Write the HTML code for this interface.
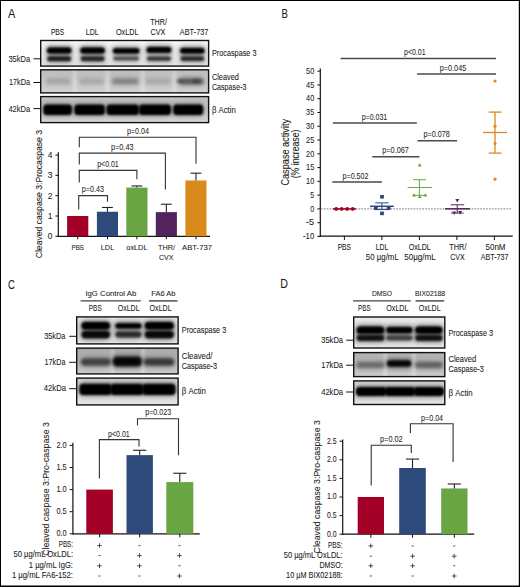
<!DOCTYPE html>
<html><head><meta charset="utf-8"><title>Figure</title>
<style>
html,body{margin:0;padding:0;background:#fff;}
body{width:520px;height:587px;overflow:hidden;font-family:"Liberation Sans", sans-serif;}
svg{display:block;}
text{font-family:"Liberation Sans", sans-serif;}
</style></head>
<body>
<svg width="520" height="587" viewBox="0 0 520 587" font-family='"Liberation Sans", sans-serif'>
<defs><filter id="b1" x="-30%" y="-100%" width="160%" height="300%"><feGaussianBlur stdDeviation="0.9"/></filter><filter id="b15" x="-30%" y="-100%" width="160%" height="300%"><feGaussianBlur stdDeviation="1.2"/></filter><filter id="b2" x="-30%" y="-100%" width="160%" height="300%"><feGaussianBlur stdDeviation="1.6"/></filter><filter id="b3" x="-30%" y="-100%" width="160%" height="300%"><feGaussianBlur stdDeviation="2.5"/></filter><linearGradient id="gA1" x1="0" y1="0" x2="0" y2="1"><stop offset="0" stop-color="#f6f6f6"/><stop offset="0.5" stop-color="#eeeeee"/><stop offset="1" stop-color="#e0e0e0"/></linearGradient><linearGradient id="gA2" x1="0" y1="0" x2="0" y2="1"><stop offset="0" stop-color="#bcbcbc"/><stop offset="0.5" stop-color="#c8c8c8"/><stop offset="1" stop-color="#d2d2d2"/></linearGradient><linearGradient id="gA3" x1="0" y1="0" x2="0" y2="1"><stop offset="0" stop-color="#c0c0c0"/><stop offset="0.6" stop-color="#cacaca"/><stop offset="1" stop-color="#d6d6d6"/></linearGradient><clipPath id="c7"><rect x="40.70" y="40.50" width="167.90" height="25.60"/></clipPath><clipPath id="c8"><rect x="40.70" y="69.80" width="167.90" height="23.10"/></clipPath><clipPath id="c9"><rect x="40.70" y="96.60" width="167.90" height="26.00"/></clipPath><linearGradient id="gC1" x1="0" y1="0" x2="0" y2="1"><stop offset="0" stop-color="#e8e8e8"/><stop offset="0.5" stop-color="#dcdcdc"/><stop offset="1" stop-color="#e4e4e4"/></linearGradient><linearGradient id="gC2" x1="0" y1="0" x2="0" y2="1"><stop offset="0" stop-color="#a8a8a8"/><stop offset="0.5" stop-color="#b8b8b8"/><stop offset="1" stop-color="#cccccc"/></linearGradient><linearGradient id="gC3" x1="0" y1="0" x2="0" y2="1"><stop offset="0" stop-color="#cfcfcf"/><stop offset="0.6" stop-color="#dcdcdc"/><stop offset="1" stop-color="#e6e6e6"/></linearGradient><clipPath id="c13"><rect x="76.70" y="316.90" width="101.40" height="27.00"/></clipPath><clipPath id="c14"><rect x="76.70" y="348.10" width="101.40" height="25.80"/></clipPath><clipPath id="c15"><rect x="76.70" y="378.10" width="101.40" height="26.80"/></clipPath><linearGradient id="gD1" x1="0" y1="0" x2="0" y2="1"><stop offset="0" stop-color="#ececec"/><stop offset="0.5" stop-color="#e0e0e0"/><stop offset="1" stop-color="#e8e8e8"/></linearGradient><linearGradient id="gD2" x1="0" y1="0" x2="0" y2="1"><stop offset="0" stop-color="#b0b0b0"/><stop offset="0.5" stop-color="#bcbcbc"/><stop offset="1" stop-color="#cccccc"/></linearGradient><linearGradient id="gD3" x1="0" y1="0" x2="0" y2="1"><stop offset="0" stop-color="#d0d0d0"/><stop offset="0.6" stop-color="#dadada"/><stop offset="1" stop-color="#e4e4e4"/></linearGradient><clipPath id="c19"><rect x="353.70" y="317.00" width="91.10" height="31.00"/></clipPath><clipPath id="c20"><rect x="353.70" y="352.60" width="91.10" height="24.00"/></clipPath><clipPath id="c21"><rect x="353.70" y="380.90" width="91.10" height="23.60"/></clipPath></defs>
<rect width="520" height="587" fill="#fff"/>
<g>
<text x="8.10" y="17.70" font-size="13.20" textLength="7.30" lengthAdjust="spacingAndGlyphs" fill="#1c1c1c" stroke="#1c1c1c" stroke-width="0.08">A</text>
<text x="50.90" y="35.10" font-size="8.80" textLength="13.30" lengthAdjust="spacingAndGlyphs" fill="#1c1c1c" stroke="#1c1c1c" stroke-width="0.08">PBS</text>
<text x="85.80" y="35.10" font-size="8.80" textLength="13.00" lengthAdjust="spacingAndGlyphs" fill="#1c1c1c" stroke="#1c1c1c" stroke-width="0.08">LDL</text>
<text x="115.90" y="35.10" font-size="8.80" textLength="22.70" lengthAdjust="spacingAndGlyphs" fill="#1c1c1c" stroke="#1c1c1c" stroke-width="0.08">OxLDL</text>
<text x="179.80" y="35.10" font-size="8.80" textLength="28.60" lengthAdjust="spacingAndGlyphs" fill="#1c1c1c" stroke="#1c1c1c" stroke-width="0.08">ABT-737</text>
<text x="150.20" y="25.20" font-size="8.80" textLength="16.70" lengthAdjust="spacingAndGlyphs" fill="#1c1c1c" stroke="#1c1c1c" stroke-width="0.08">THR/</text>
<text x="150.60" y="35.40" font-size="8.80" textLength="14.80" lengthAdjust="spacingAndGlyphs" fill="#1c1c1c" stroke="#1c1c1c" stroke-width="0.08">CVX</text>
<text x="8.40" y="62.00" font-size="8.80" textLength="21.70" lengthAdjust="spacingAndGlyphs" fill="#1c1c1c" stroke="#1c1c1c" stroke-width="0.08">35kDa</text>
<text x="9.00" y="85.20" font-size="8.80" textLength="21.10" lengthAdjust="spacingAndGlyphs" fill="#1c1c1c" stroke="#1c1c1c" stroke-width="0.08">17kDa</text>
<text x="8.40" y="111.70" font-size="8.80" textLength="21.70" lengthAdjust="spacingAndGlyphs" fill="#1c1c1c" stroke="#1c1c1c" stroke-width="0.08">42kDa</text>
<line x1="33.40" y1="58.80" x2="40.50" y2="58.80" stroke="#111" stroke-width="1.0" />
<line x1="33.40" y1="82.50" x2="40.50" y2="82.50" stroke="#111" stroke-width="1.0" />
<line x1="33.40" y1="108.60" x2="40.50" y2="108.60" stroke="#111" stroke-width="1.0" />
<text x="211.90" y="56.10" font-size="9.68" textLength="44.60" lengthAdjust="spacingAndGlyphs" fill="#1c1c1c" stroke="#1c1c1c" stroke-width="0.08">Procaspase 3</text>
<text x="211.90" y="79.60" font-size="9.68" textLength="27.00" lengthAdjust="spacingAndGlyphs" fill="#1c1c1c" stroke="#1c1c1c" stroke-width="0.08">Cleaved</text>
<text x="211.90" y="89.50" font-size="9.68" textLength="34.60" lengthAdjust="spacingAndGlyphs" fill="#1c1c1c" stroke="#1c1c1c" stroke-width="0.08">Caspase-3</text>
<text x="211.90" y="113.20" font-size="9.68" textLength="23.80" lengthAdjust="spacingAndGlyphs" fill="#1c1c1c" stroke="#1c1c1c" stroke-width="0.08">&#946; Actin</text>
<g clip-path="url(#c7)">
<rect x="40.00" y="39.80" width="169.30" height="27.00" fill="url(#gA1)"/>
<rect x="46.00" y="46.10" width="26.40" height="8.80" rx="3.90" fill="#000" opacity="0.500" filter="url(#b3)"/>
<rect x="47.00" y="47.60" width="24.40" height="5.80" rx="2.90" fill="#000" opacity="1.0" filter="url(#b1)"/>
<rect x="46.30" y="54.70" width="25.80" height="8.00" rx="3.50" fill="#000" opacity="0.360" filter="url(#b3)"/>
<rect x="47.30" y="56.20" width="23.80" height="5.00" rx="2.50" fill="#000" opacity="0.8" filter="url(#b15)"/>
<rect x="79.40" y="46.10" width="26.40" height="8.80" rx="3.90" fill="#000" opacity="0.500" filter="url(#b3)"/>
<rect x="80.40" y="47.60" width="24.40" height="5.80" rx="2.90" fill="#000" opacity="1.0" filter="url(#b1)"/>
<rect x="79.70" y="54.70" width="25.80" height="8.00" rx="3.50" fill="#000" opacity="0.338" filter="url(#b3)"/>
<rect x="80.70" y="56.20" width="23.80" height="5.00" rx="2.50" fill="#000" opacity="0.75" filter="url(#b15)"/>
<rect x="112.00" y="46.70" width="28.40" height="8.20" rx="3.60" fill="#000" opacity="0.500" filter="url(#b3)"/>
<rect x="113.00" y="48.20" width="26.40" height="5.20" rx="2.60" fill="#000" opacity="1.0" filter="url(#b1)"/>
<rect x="112.30" y="54.90" width="27.80" height="7.20" rx="3.10" fill="#000" opacity="0.248" filter="url(#b3)"/>
<rect x="113.30" y="56.40" width="25.80" height="4.20" rx="2.10" fill="#000" opacity="0.55" filter="url(#b15)"/>
<rect x="145.60" y="45.60" width="26.70" height="8.70" rx="3.85" fill="#000" opacity="0.500" filter="url(#b3)"/>
<rect x="146.60" y="47.10" width="24.70" height="5.70" rx="2.85" fill="#000" opacity="1.0" filter="url(#b1)"/>
<rect x="145.90" y="54.90" width="26.10" height="7.40" rx="3.20" fill="#000" opacity="0.306" filter="url(#b3)"/>
<rect x="146.90" y="56.40" width="24.10" height="4.40" rx="2.20" fill="#000" opacity="0.68" filter="url(#b15)"/>
<rect x="179.20" y="46.40" width="26.30" height="8.50" rx="3.75" fill="#000" opacity="0.500" filter="url(#b3)"/>
<rect x="180.20" y="47.90" width="24.30" height="5.50" rx="2.75" fill="#000" opacity="1.0" filter="url(#b1)"/>
<rect x="179.50" y="54.80" width="25.70" height="7.70" rx="3.35" fill="#000" opacity="0.324" filter="url(#b3)"/>
<rect x="180.50" y="56.30" width="23.70" height="4.70" rx="2.35" fill="#000" opacity="0.72" filter="url(#b15)"/>
</g>
<rect x="40.70" y="40.50" width="167.90" height="25.60" fill="none" stroke="#111" stroke-width="1.4"/>
<g clip-path="url(#c8)">
<rect x="40.00" y="69.10" width="169.30" height="24.50" fill="url(#gA2)"/>
<rect x="72.75" y="68.00" width="3.50" height="27.00" fill="#fff" opacity="0.3" filter="url(#b2)"/>
<rect x="105.75" y="68.00" width="3.50" height="27.00" fill="#fff" opacity="0.3" filter="url(#b2)"/>
<rect x="140.75" y="68.00" width="3.50" height="27.00" fill="#fff" opacity="0.3" filter="url(#b2)"/>
<rect x="172.75" y="68.00" width="3.50" height="27.00" fill="#fff" opacity="0.3" filter="url(#b2)"/>
<rect x="45.00" y="77.10" width="26.40" height="8.60" rx="3.80" fill="#000" opacity="0.070" filter="url(#b3)"/>
<rect x="46.00" y="78.60" width="24.40" height="5.60" rx="2.80" fill="#000" opacity="0.1" filter="url(#b2)"/>
<rect x="78.40" y="77.10" width="26.40" height="8.60" rx="3.80" fill="#000" opacity="0.063" filter="url(#b3)"/>
<rect x="79.40" y="78.60" width="24.40" height="5.60" rx="2.80" fill="#000" opacity="0.09" filter="url(#b2)"/>
<rect x="111.00" y="77.10" width="28.40" height="8.60" rx="3.80" fill="#000" opacity="0.154" filter="url(#b3)"/>
<rect x="112.00" y="78.60" width="26.40" height="5.60" rx="2.80" fill="#000" opacity="0.22" filter="url(#b2)"/>
<rect x="144.60" y="77.10" width="26.70" height="8.60" rx="3.80" fill="#000" opacity="0.063" filter="url(#b3)"/>
<rect x="145.60" y="78.60" width="24.70" height="5.60" rx="2.80" fill="#000" opacity="0.09" filter="url(#b2)"/>
<rect x="178.20" y="77.10" width="26.30" height="8.60" rx="3.80" fill="#000" opacity="0.266" filter="url(#b3)"/>
<rect x="179.20" y="78.60" width="24.30" height="5.60" rx="2.80" fill="#000" opacity="0.38" filter="url(#b2)"/>
<rect x="176.00" y="78.80" width="7.00" height="4.80" rx="2.40" fill="#000" opacity="0.25" filter="url(#b15)"/>
<rect x="192.00" y="78.80" width="8.00" height="4.80" rx="2.40" fill="#000" opacity="0.25" filter="url(#b15)"/>
</g>
<rect x="40.70" y="69.80" width="167.90" height="23.10" fill="none" stroke="#111" stroke-width="1.4"/>
<g clip-path="url(#c9)">
<rect x="40.00" y="95.90" width="169.30" height="27.40" fill="url(#gA3)"/>
<rect x="42.30" y="102.90" width="30.60" height="13.70" rx="4.50" fill="#000" opacity="0.300" filter="url(#b3)"/>
<rect x="43.30" y="104.40" width="28.60" height="10.70" rx="3.50" fill="#000" opacity="1.0" filter="url(#b1)"/>
<rect x="73.30" y="102.90" width="32.60" height="13.70" rx="4.50" fill="#000" opacity="0.300" filter="url(#b3)"/>
<rect x="74.30" y="104.40" width="30.60" height="10.70" rx="3.50" fill="#000" opacity="1.0" filter="url(#b1)"/>
<rect x="105.50" y="102.90" width="34.50" height="13.70" rx="4.50" fill="#000" opacity="0.300" filter="url(#b3)"/>
<rect x="106.50" y="104.40" width="32.50" height="10.70" rx="3.50" fill="#000" opacity="1.0" filter="url(#b1)"/>
<rect x="138.00" y="102.90" width="34.00" height="13.70" rx="4.50" fill="#000" opacity="0.300" filter="url(#b3)"/>
<rect x="139.00" y="104.40" width="32.00" height="10.70" rx="3.50" fill="#000" opacity="1.0" filter="url(#b1)"/>
<rect x="172.20" y="102.90" width="32.00" height="13.70" rx="4.50" fill="#000" opacity="0.300" filter="url(#b3)"/>
<rect x="173.20" y="104.40" width="30.00" height="10.70" rx="3.50" fill="#000" opacity="1.0" filter="url(#b1)"/>
</g>
<rect x="40.70" y="96.60" width="167.90" height="26.00" fill="none" stroke="#111" stroke-width="1.4"/>
<line x1="58.30" y1="152.30" x2="58.30" y2="236.80" stroke="#111" stroke-width="1.2" />
<line x1="57.70" y1="236.30" x2="210.00" y2="236.30" stroke="#111" stroke-width="1.2" />
<line x1="55.40" y1="236.30" x2="58.30" y2="236.30" stroke="#111" stroke-width="1.0" />
<text x="47.70" y="239.20" font-size="8.80" textLength="4.70" lengthAdjust="spacingAndGlyphs" fill="#1c1c1c" stroke="#1c1c1c" stroke-width="0.08">0</text>
<line x1="55.40" y1="216.00" x2="58.30" y2="216.00" stroke="#111" stroke-width="1.0" />
<text x="47.70" y="218.90" font-size="8.80" textLength="4.70" lengthAdjust="spacingAndGlyphs" fill="#1c1c1c" stroke="#1c1c1c" stroke-width="0.08">1</text>
<line x1="55.40" y1="195.70" x2="58.30" y2="195.70" stroke="#111" stroke-width="1.0" />
<text x="47.70" y="198.60" font-size="8.80" textLength="4.70" lengthAdjust="spacingAndGlyphs" fill="#1c1c1c" stroke="#1c1c1c" stroke-width="0.08">2</text>
<line x1="55.40" y1="175.40" x2="58.30" y2="175.40" stroke="#111" stroke-width="1.0" />
<text x="47.70" y="178.30" font-size="8.80" textLength="4.70" lengthAdjust="spacingAndGlyphs" fill="#1c1c1c" stroke="#1c1c1c" stroke-width="0.08">3</text>
<line x1="55.40" y1="155.10" x2="58.30" y2="155.10" stroke="#111" stroke-width="1.0" />
<text x="47.70" y="158.00" font-size="8.80" textLength="4.70" lengthAdjust="spacingAndGlyphs" fill="#1c1c1c" stroke="#1c1c1c" stroke-width="0.08">4</text>
<rect x="67.10" y="216.00" width="21.20" height="20.30" fill="#a30028" />
<line x1="77.70" y1="236.30" x2="77.70" y2="239.30" stroke="#111" stroke-width="1.0" />
<rect x="96.90" y="211.74" width="21.10" height="24.56" fill="#2d4a7a" />
<line x1="107.45" y1="207.47" x2="107.45" y2="211.74" stroke="#222" stroke-width="1.1" />
<line x1="102.05" y1="207.47" x2="112.85" y2="207.47" stroke="#222" stroke-width="1.1" />
<line x1="107.45" y1="236.30" x2="107.45" y2="239.30" stroke="#111" stroke-width="1.0" />
<rect x="126.30" y="187.58" width="21.20" height="48.72" fill="#6aa544" />
<line x1="136.90" y1="185.96" x2="136.90" y2="187.58" stroke="#222" stroke-width="1.1" />
<line x1="131.50" y1="185.96" x2="142.30" y2="185.96" stroke="#222" stroke-width="1.1" />
<line x1="136.90" y1="236.30" x2="136.90" y2="239.30" stroke="#111" stroke-width="1.0" />
<rect x="155.80" y="212.14" width="21.10" height="24.16" fill="#52245e" />
<line x1="166.35" y1="204.23" x2="166.35" y2="212.14" stroke="#222" stroke-width="1.1" />
<line x1="160.95" y1="204.23" x2="171.75" y2="204.23" stroke="#222" stroke-width="1.1" />
<line x1="166.35" y1="236.30" x2="166.35" y2="239.30" stroke="#111" stroke-width="1.0" />
<rect x="185.40" y="180.48" width="21.10" height="55.82" fill="#da8a1a" />
<line x1="195.95" y1="173.17" x2="195.95" y2="180.48" stroke="#222" stroke-width="1.1" />
<line x1="190.55" y1="173.17" x2="201.35" y2="173.17" stroke="#222" stroke-width="1.1" />
<line x1="195.95" y1="236.30" x2="195.95" y2="239.30" stroke="#111" stroke-width="1.0" />
<text x="71.50" y="250.00" font-size="8.03" textLength="12.50" lengthAdjust="spacingAndGlyphs" fill="#1c1c1c" stroke="#1c1c1c" stroke-width="0.08">PBS</text>
<text x="100.80" y="250.00" font-size="8.03" textLength="13.40" lengthAdjust="spacingAndGlyphs" fill="#1c1c1c" stroke="#1c1c1c" stroke-width="0.08">LDL</text>
<text x="126.30" y="249.60" font-size="8.03" textLength="21.20" lengthAdjust="spacingAndGlyphs" fill="#1c1c1c" stroke="#1c1c1c" stroke-width="0.08">oxLDL</text>
<text x="158.00" y="249.80" font-size="8.03" textLength="17.00" lengthAdjust="spacingAndGlyphs" fill="#1c1c1c" stroke="#1c1c1c" stroke-width="0.08">THR/</text>
<text x="159.00" y="260.00" font-size="8.03" textLength="14.50" lengthAdjust="spacingAndGlyphs" fill="#1c1c1c" stroke="#1c1c1c" stroke-width="0.08">CVX</text>
<text x="182.00" y="249.80" font-size="8.03" textLength="30.00" lengthAdjust="spacingAndGlyphs" fill="#1c1c1c" stroke="#1c1c1c" stroke-width="0.08">ABT-737</text>
<path d="M79.3,147.2 V137.3 H196.0 V163.8" stroke="#333" stroke-width="1.1" fill="none" />
<path d="M79.3,164.6 V153.1 H165.4 V189.6" stroke="#333" stroke-width="1.1" fill="none" />
<path d="M79.3,182.5 V170.4 H136.9 V179.2" stroke="#333" stroke-width="1.1" fill="none" />
<path d="M78.7,209.4 V195.6 H107.5 V201.7" stroke="#333" stroke-width="1.1" fill="none" />
<text x="126.90" y="134.40" font-size="8.36" textLength="22.10" lengthAdjust="spacingAndGlyphs" fill="#1c1c1c" stroke="#1c1c1c" stroke-width="0.04">p=0.04</text>
<text x="111.00" y="150.20" font-size="8.36" textLength="22.50" lengthAdjust="spacingAndGlyphs" fill="#1c1c1c" stroke="#1c1c1c" stroke-width="0.04">p=0.43</text>
<text x="97.20" y="167.40" font-size="8.36" textLength="21.50" lengthAdjust="spacingAndGlyphs" fill="#1c1c1c" stroke="#1c1c1c" stroke-width="0.04">p&lt;0.01</text>
<text x="81.70" y="191.70" font-size="8.36" textLength="22.20" lengthAdjust="spacingAndGlyphs" fill="#1c1c1c" stroke="#1c1c1c" stroke-width="0.04">p=0.43</text>
<text x="0" y="0" transform="translate(42.00,258.30) rotate(-90)" font-size="9.02" textLength="128.40" lengthAdjust="spacingAndGlyphs" fill="#1c1c1c" stroke="#1c1c1c" stroke-width="0.08">Cleaved caspase 3:Procaspase 3</text>
<text x="281.50" y="18.00" font-size="13.20" textLength="6.40" lengthAdjust="spacingAndGlyphs" fill="#1c1c1c" stroke="#1c1c1c" stroke-width="0.08">B</text>
<line x1="320.30" y1="68.50" x2="320.30" y2="236.80" stroke="#111" stroke-width="1.2" />
<line x1="319.70" y1="236.20" x2="512.70" y2="236.20" stroke="#111" stroke-width="1.2" />
<line x1="317.40" y1="236.45" x2="320.30" y2="236.45" stroke="#111" stroke-width="1.0" />
<text x="303.00" y="239.15" font-size="8.14" textLength="11.20" lengthAdjust="spacingAndGlyphs" fill="#1c1c1c" stroke="#1c1c1c" stroke-width="0.08">-10</text>
<line x1="317.40" y1="222.68" x2="320.30" y2="222.68" stroke="#111" stroke-width="1.0" />
<text x="306.10" y="225.38" font-size="8.14" textLength="8.10" lengthAdjust="spacingAndGlyphs" fill="#1c1c1c" stroke="#1c1c1c" stroke-width="0.08">-5</text>
<line x1="317.40" y1="208.90" x2="320.30" y2="208.90" stroke="#111" stroke-width="1.0" />
<text x="310.30" y="211.60" font-size="8.14" textLength="3.90" lengthAdjust="spacingAndGlyphs" fill="#1c1c1c" stroke="#1c1c1c" stroke-width="0.08">0</text>
<line x1="317.40" y1="195.12" x2="320.30" y2="195.12" stroke="#111" stroke-width="1.0" />
<text x="310.30" y="197.82" font-size="8.14" textLength="3.90" lengthAdjust="spacingAndGlyphs" fill="#1c1c1c" stroke="#1c1c1c" stroke-width="0.08">5</text>
<line x1="317.40" y1="181.35" x2="320.30" y2="181.35" stroke="#111" stroke-width="1.0" />
<text x="306.10" y="184.05" font-size="8.14" textLength="8.10" lengthAdjust="spacingAndGlyphs" fill="#1c1c1c" stroke="#1c1c1c" stroke-width="0.08">10</text>
<line x1="317.40" y1="167.58" x2="320.30" y2="167.58" stroke="#111" stroke-width="1.0" />
<text x="306.10" y="170.28" font-size="8.14" textLength="8.10" lengthAdjust="spacingAndGlyphs" fill="#1c1c1c" stroke="#1c1c1c" stroke-width="0.08">15</text>
<line x1="317.40" y1="153.80" x2="320.30" y2="153.80" stroke="#111" stroke-width="1.0" />
<text x="306.10" y="156.50" font-size="8.14" textLength="8.10" lengthAdjust="spacingAndGlyphs" fill="#1c1c1c" stroke="#1c1c1c" stroke-width="0.08">20</text>
<line x1="317.40" y1="140.03" x2="320.30" y2="140.03" stroke="#111" stroke-width="1.0" />
<text x="306.10" y="142.72" font-size="8.14" textLength="8.10" lengthAdjust="spacingAndGlyphs" fill="#1c1c1c" stroke="#1c1c1c" stroke-width="0.08">25</text>
<line x1="317.40" y1="126.25" x2="320.30" y2="126.25" stroke="#111" stroke-width="1.0" />
<text x="306.10" y="128.95" font-size="8.14" textLength="8.10" lengthAdjust="spacingAndGlyphs" fill="#1c1c1c" stroke="#1c1c1c" stroke-width="0.08">30</text>
<line x1="317.40" y1="112.48" x2="320.30" y2="112.48" stroke="#111" stroke-width="1.0" />
<text x="306.10" y="115.18" font-size="8.14" textLength="8.10" lengthAdjust="spacingAndGlyphs" fill="#1c1c1c" stroke="#1c1c1c" stroke-width="0.08">35</text>
<line x1="317.40" y1="98.70" x2="320.30" y2="98.70" stroke="#111" stroke-width="1.0" />
<text x="306.10" y="101.40" font-size="8.14" textLength="8.10" lengthAdjust="spacingAndGlyphs" fill="#1c1c1c" stroke="#1c1c1c" stroke-width="0.08">40</text>
<line x1="317.40" y1="84.93" x2="320.30" y2="84.93" stroke="#111" stroke-width="1.0" />
<text x="306.10" y="87.63" font-size="8.14" textLength="8.10" lengthAdjust="spacingAndGlyphs" fill="#1c1c1c" stroke="#1c1c1c" stroke-width="0.08">45</text>
<line x1="317.40" y1="71.15" x2="320.30" y2="71.15" stroke="#111" stroke-width="1.0" />
<text x="306.10" y="73.85" font-size="8.14" textLength="8.10" lengthAdjust="spacingAndGlyphs" fill="#1c1c1c" stroke="#1c1c1c" stroke-width="0.08">50</text>
<line x1="320.80" y1="208.90" x2="512.00" y2="208.90" stroke="#9a9a9a" stroke-width="1.2" stroke-dasharray="1.8,1.1"/>
<line x1="344.40" y1="236.20" x2="344.40" y2="240.00" stroke="#111" stroke-width="1.0" />
<line x1="381.90" y1="236.20" x2="381.90" y2="240.00" stroke="#111" stroke-width="1.0" />
<line x1="419.40" y1="236.20" x2="419.40" y2="240.00" stroke="#111" stroke-width="1.0" />
<line x1="456.90" y1="236.20" x2="456.90" y2="240.00" stroke="#111" stroke-width="1.0" />
<line x1="494.40" y1="236.20" x2="494.40" y2="240.00" stroke="#111" stroke-width="1.0" />
<text x="337.70" y="249.80" font-size="8.36" textLength="13.30" lengthAdjust="spacingAndGlyphs" fill="#1c1c1c" stroke="#1c1c1c" stroke-width="0.08">PBS</text>
<text x="375.80" y="250.00" font-size="8.36" textLength="12.50" lengthAdjust="spacingAndGlyphs" fill="#1c1c1c" stroke="#1c1c1c" stroke-width="0.08">LDL</text>
<text x="365.80" y="259.80" font-size="8.36" textLength="33.00" lengthAdjust="spacingAndGlyphs" fill="#1c1c1c" stroke="#1c1c1c" stroke-width="0.08">50 &#181;g/mL</text>
<text x="408.80" y="250.20" font-size="8.36" textLength="21.90" lengthAdjust="spacingAndGlyphs" fill="#1c1c1c" stroke="#1c1c1c" stroke-width="0.08">OxLDL</text>
<text x="404.20" y="259.60" font-size="8.36" textLength="31.60" lengthAdjust="spacingAndGlyphs" fill="#1c1c1c" stroke="#1c1c1c" stroke-width="0.08">50&#181;g/mL</text>
<text x="449.20" y="250.20" font-size="8.36" textLength="17.30" lengthAdjust="spacingAndGlyphs" fill="#1c1c1c" stroke="#1c1c1c" stroke-width="0.08">THR/</text>
<text x="450.30" y="259.60" font-size="8.36" textLength="14.40" lengthAdjust="spacingAndGlyphs" fill="#1c1c1c" stroke="#1c1c1c" stroke-width="0.08">CVX</text>
<text x="485.50" y="250.20" font-size="8.36" textLength="20.00" lengthAdjust="spacingAndGlyphs" fill="#1c1c1c" stroke="#1c1c1c" stroke-width="0.08">50nM</text>
<text x="480.80" y="259.60" font-size="8.36" textLength="27.70" lengthAdjust="spacingAndGlyphs" fill="#1c1c1c" stroke="#1c1c1c" stroke-width="0.08">ABT-737</text>
<line x1="340.60" y1="58.60" x2="496.00" y2="58.60" stroke="#4a4a4a" stroke-width="1.5" />
<text x="404.00" y="55.20" font-size="8.36" textLength="21.60" lengthAdjust="spacingAndGlyphs" fill="#1c1c1c" stroke="#1c1c1c" stroke-width="0.04">p&lt;0.01</text>
<line x1="417.10" y1="74.00" x2="496.00" y2="74.00" stroke="#4a4a4a" stroke-width="1.5" />
<text x="439.80" y="70.60" font-size="8.36" textLength="26.40" lengthAdjust="spacingAndGlyphs" fill="#1c1c1c" stroke="#1c1c1c" stroke-width="0.04">p=0.045</text>
<line x1="332.90" y1="123.10" x2="416.90" y2="123.10" stroke="#4a4a4a" stroke-width="1.5" />
<text x="361.70" y="119.70" font-size="8.36" textLength="25.60" lengthAdjust="spacingAndGlyphs" fill="#1c1c1c" stroke="#1c1c1c" stroke-width="0.04">p=0.031</text>
<line x1="417.50" y1="140.80" x2="457.10" y2="140.80" stroke="#4a4a4a" stroke-width="1.5" />
<text x="423.50" y="137.40" font-size="8.36" textLength="26.30" lengthAdjust="spacingAndGlyphs" fill="#1c1c1c" stroke="#1c1c1c" stroke-width="0.04">p=0.078</text>
<line x1="372.30" y1="156.70" x2="419.40" y2="156.70" stroke="#4a4a4a" stroke-width="1.5" />
<text x="382.30" y="153.30" font-size="8.36" textLength="26.50" lengthAdjust="spacingAndGlyphs" fill="#1c1c1c" stroke="#1c1c1c" stroke-width="0.04">p=0.067</text>
<line x1="332.30" y1="181.90" x2="381.90" y2="181.90" stroke="#4a4a4a" stroke-width="1.5" />
<text x="342.50" y="178.50" font-size="8.36" textLength="26.00" lengthAdjust="spacingAndGlyphs" fill="#1c1c1c" stroke="#1c1c1c" stroke-width="0.04">p=0.502</text>
<text x="0" y="0" transform="translate(289.00,185.60) rotate(-90)" font-size="10.12" textLength="66.70" lengthAdjust="spacingAndGlyphs" fill="#1c1c1c" stroke="#1c1c1c" stroke-width="0.08">Caspase activity</text>
<text x="0" y="0" transform="translate(299.20,178.30) rotate(-90)" font-size="10.12" textLength="48.70" lengthAdjust="spacingAndGlyphs" fill="#1c1c1c" stroke="#1c1c1c" stroke-width="0.08">(% increase)</text>
<line x1="333.00" y1="208.90" x2="356.00" y2="208.90" stroke="#a30028" stroke-width="1.5" />
<circle cx="336.2" cy="208.9" r="1.9" fill="#a30028"/>
<circle cx="341.7" cy="208.9" r="1.9" fill="#a30028"/>
<circle cx="347.2" cy="208.9" r="1.9" fill="#a30028"/>
<circle cx="352.7" cy="208.9" r="1.9" fill="#a30028"/>
<line x1="370.00" y1="206.30" x2="393.80" y2="206.30" stroke="#2d4a7a" stroke-width="1.5" />
<line x1="375.20" y1="202.90" x2="388.60" y2="202.90" stroke="#2d4a7a" stroke-width="1.0" />
<line x1="375.20" y1="209.60" x2="388.60" y2="209.60" stroke="#2d4a7a" stroke-width="1.0" />
<line x1="381.90" y1="202.90" x2="381.90" y2="209.60" stroke="#2d4a7a" stroke-width="1.0" />
<rect x="380.1" y="195.0" width="3.8" height="3.6" fill="#2d4a7a"/>
<rect x="374.0" y="206.39999999999998" width="3.8" height="3.6" fill="#2d4a7a"/>
<rect x="386.8" y="206.39999999999998" width="3.8" height="3.6" fill="#2d4a7a"/>
<rect x="380.1" y="211.6" width="3.8" height="3.6" fill="#2d4a7a"/>
<line x1="407.70" y1="187.50" x2="431.90" y2="187.50" stroke="#6aa544" stroke-width="1.0" />
<line x1="413.00" y1="179.70" x2="426.10" y2="179.70" stroke="#6aa544" stroke-width="1.0" />
<line x1="413.00" y1="195.30" x2="426.10" y2="195.30" stroke="#6aa544" stroke-width="1.0" />
<line x1="419.40" y1="179.70" x2="419.40" y2="195.30" stroke="#6aa544" stroke-width="1.0" />
<path d="M417.7,166.4 L421.7,166.4 L419.7,163.0 Z" fill="#6aa544"/>
<path d="M411.9,196.6 L415.9,196.6 L413.9,193.2 Z" fill="#6aa544"/>
<path d="M417.7,198.1 L421.7,198.1 L419.7,194.7 Z" fill="#6aa544"/>
<path d="M423.4,196.6 L427.4,196.6 L425.4,193.2 Z" fill="#6aa544"/>
<line x1="445.00" y1="208.80" x2="470.00" y2="208.80" stroke="#52245e" stroke-width="1.5" />
<line x1="450.80" y1="204.80" x2="464.20" y2="204.80" stroke="#52245e" stroke-width="1.0" />
<line x1="451.00" y1="213.10" x2="463.50" y2="213.10" stroke="#52245e" stroke-width="1.0" />
<line x1="457.20" y1="204.80" x2="457.20" y2="213.10" stroke="#52245e" stroke-width="1.0" />
<path d="M455.3,199.0 L459.3,199.0 L457.3,202.4 Z" fill="#52245e"/>
<path d="M452.2,211.4 L456.2,211.4 L454.2,214.8 Z" fill="#52245e"/>
<path d="M458.1,211.0 L462.1,211.0 L460.1,214.4 Z" fill="#52245e"/>
<line x1="483.00" y1="132.50" x2="507.00" y2="132.50" stroke="#da8a1a" stroke-width="1.3" />
<line x1="488.70" y1="112.10" x2="501.50" y2="112.10" stroke="#da8a1a" stroke-width="1.3" />
<line x1="488.70" y1="153.10" x2="501.50" y2="153.10" stroke="#da8a1a" stroke-width="1.3" />
<line x1="495.00" y1="112.10" x2="495.00" y2="153.10" stroke="#da8a1a" stroke-width="1.3" />
<circle cx="495.0" cy="81.0" r="1.6" fill="#da8a1a"/>
<circle cx="495.0" cy="126.2" r="1.6" fill="#da8a1a"/>
<circle cx="495.0" cy="143.5" r="1.6" fill="#da8a1a"/>
<circle cx="495.0" cy="179.2" r="1.6" fill="#da8a1a"/>
<text x="8.10" y="288.70" font-size="13.20" textLength="6.90" lengthAdjust="spacingAndGlyphs" fill="#1c1c1c" stroke="#1c1c1c" stroke-width="0.08">C</text>
<text x="85.40" y="295.60" font-size="7.70" textLength="50.90" lengthAdjust="spacingAndGlyphs" fill="#1c1c1c" stroke="#1c1c1c" stroke-width="0.08">IgG Control Ab</text>
<text x="151.20" y="295.60" font-size="7.70" textLength="24.40" lengthAdjust="spacingAndGlyphs" fill="#1c1c1c" stroke="#1c1c1c" stroke-width="0.08">FA6 Ab</text>
<line x1="80.60" y1="300.90" x2="140.80" y2="300.90" stroke="#444" stroke-width="1.4" />
<line x1="149.00" y1="300.90" x2="177.50" y2="300.90" stroke="#444" stroke-width="1.4" />
<text x="88.80" y="311.20" font-size="8.14" textLength="12.90" lengthAdjust="spacingAndGlyphs" fill="#1c1c1c" stroke="#1c1c1c" stroke-width="0.08">PBS</text>
<text x="117.70" y="311.20" font-size="8.14" textLength="21.90" lengthAdjust="spacingAndGlyphs" fill="#1c1c1c" stroke="#1c1c1c" stroke-width="0.08">OxLDL</text>
<text x="149.60" y="311.20" font-size="8.14" textLength="22.10" lengthAdjust="spacingAndGlyphs" fill="#1c1c1c" stroke="#1c1c1c" stroke-width="0.08">OxLDL</text>
<text x="44.20" y="339.20" font-size="8.25" textLength="21.20" lengthAdjust="spacingAndGlyphs" fill="#1c1c1c" stroke="#1c1c1c" stroke-width="0.08">35kDa</text>
<text x="44.60" y="365.20" font-size="8.25" textLength="20.80" lengthAdjust="spacingAndGlyphs" fill="#1c1c1c" stroke="#1c1c1c" stroke-width="0.08">17kDa</text>
<text x="43.80" y="391.20" font-size="8.25" textLength="22.20" lengthAdjust="spacingAndGlyphs" fill="#1c1c1c" stroke="#1c1c1c" stroke-width="0.08">42kDa</text>
<line x1="69.20" y1="336.30" x2="76.50" y2="336.30" stroke="#111" stroke-width="1.0" />
<line x1="69.20" y1="362.30" x2="76.50" y2="362.30" stroke="#111" stroke-width="1.0" />
<line x1="69.20" y1="388.70" x2="76.50" y2="388.70" stroke="#111" stroke-width="1.0" />
<text x="181.80" y="333.40" font-size="9.13" textLength="44.40" lengthAdjust="spacingAndGlyphs" fill="#1c1c1c" stroke="#1c1c1c" stroke-width="0.08">Procaspase 3</text>
<text x="181.80" y="359.30" font-size="9.13" textLength="30.60" lengthAdjust="spacingAndGlyphs" fill="#1c1c1c" stroke="#1c1c1c" stroke-width="0.08">Cleaved/</text>
<text x="181.80" y="368.80" font-size="9.13" textLength="35.20" lengthAdjust="spacingAndGlyphs" fill="#1c1c1c" stroke="#1c1c1c" stroke-width="0.08">Caspase-3</text>
<text x="181.80" y="393.90" font-size="9.13" textLength="24.20" lengthAdjust="spacingAndGlyphs" fill="#1c1c1c" stroke="#1c1c1c" stroke-width="0.08">&#946; Actin</text>
<g clip-path="url(#c13)">
<rect x="76.00" y="316.20" width="102.80" height="28.40" fill="url(#gC1)"/>
<rect x="80.50" y="320.50" width="30.50" height="10.40" rx="4.70" fill="#000" opacity="0.500" filter="url(#b3)"/>
<rect x="81.50" y="322.00" width="28.50" height="7.40" rx="3.70" fill="#000" opacity="1" filter="url(#b1)"/>
<rect x="80.50" y="329.50" width="30.50" height="10.20" rx="4.60" fill="#000" opacity="0.460" filter="url(#b3)"/>
<rect x="81.50" y="331.00" width="28.50" height="7.20" rx="3.60" fill="#000" opacity="0.92" filter="url(#b1)"/>
<rect x="114.40" y="321.70" width="28.00" height="8.20" rx="3.60" fill="#000" opacity="0.500" filter="url(#b3)"/>
<rect x="115.40" y="323.20" width="26.00" height="5.20" rx="2.60" fill="#000" opacity="1" filter="url(#b1)"/>
<rect x="114.40" y="330.00" width="28.00" height="9.00" rx="4.00" fill="#000" opacity="0.350" filter="url(#b3)"/>
<rect x="115.40" y="331.50" width="26.00" height="6.00" rx="3.00" fill="#000" opacity="0.7" filter="url(#b1)"/>
<rect x="143.80" y="320.50" width="31.00" height="10.40" rx="4.70" fill="#000" opacity="0.500" filter="url(#b3)"/>
<rect x="144.80" y="322.00" width="29.00" height="7.40" rx="3.70" fill="#000" opacity="1" filter="url(#b1)"/>
<rect x="143.80" y="329.50" width="31.00" height="10.20" rx="4.60" fill="#000" opacity="0.460" filter="url(#b3)"/>
<rect x="144.80" y="331.00" width="29.00" height="7.20" rx="3.60" fill="#000" opacity="0.92" filter="url(#b1)"/>
</g>
<rect x="76.70" y="316.90" width="101.40" height="27.00" fill="none" stroke="#111" stroke-width="1.4"/>
<g clip-path="url(#c14)">
<rect x="76.00" y="347.40" width="102.80" height="27.20" fill="url(#gC2)"/>
<rect x="111.00" y="346.00" width="3.00" height="30.00" fill="#fff" opacity="0.35" filter="url(#b2)"/>
<rect x="141.30" y="346.00" width="3.00" height="30.00" fill="#fff" opacity="0.35" filter="url(#b2)"/>
<rect x="80.00" y="357.10" width="31.50" height="9.80" rx="4.40" fill="#000" opacity="0.300" filter="url(#b3)"/>
<rect x="81.00" y="358.60" width="29.50" height="6.80" rx="3.40" fill="#000" opacity="0.5" filter="url(#b2)"/>
<rect x="112.00" y="355.50" width="30.50" height="12.00" rx="5.00" fill="#000" opacity="0.552" filter="url(#b3)"/>
<rect x="113.00" y="357.00" width="28.50" height="9.00" rx="4.00" fill="#000" opacity="0.92" filter="url(#b2)"/>
<rect x="143.00" y="356.90" width="32.00" height="10.00" rx="4.50" fill="#000" opacity="0.330" filter="url(#b3)"/>
<rect x="144.00" y="358.40" width="30.00" height="7.00" rx="3.50" fill="#000" opacity="0.55" filter="url(#b2)"/>
</g>
<rect x="76.70" y="348.10" width="101.40" height="25.80" fill="none" stroke="#111" stroke-width="1.4"/>
<g clip-path="url(#c15)">
<rect x="76.00" y="377.40" width="102.80" height="28.20" fill="url(#gC3)"/>
<rect x="78.40" y="382.30" width="34.20" height="14.20" rx="4.80" fill="#000" opacity="0.350" filter="url(#b3)"/>
<rect x="79.40" y="383.80" width="32.20" height="11.20" rx="3.80" fill="#000" opacity="1.0" filter="url(#b1)"/>
<rect x="109.40" y="382.30" width="35.00" height="14.20" rx="4.80" fill="#000" opacity="0.350" filter="url(#b3)"/>
<rect x="110.40" y="383.80" width="33.00" height="11.20" rx="3.80" fill="#000" opacity="1.0" filter="url(#b1)"/>
<rect x="141.20" y="382.30" width="35.30" height="14.20" rx="4.80" fill="#000" opacity="0.350" filter="url(#b3)"/>
<rect x="142.20" y="383.80" width="33.30" height="11.20" rx="3.80" fill="#000" opacity="1.0" filter="url(#b1)"/>
</g>
<rect x="76.70" y="378.10" width="101.40" height="26.80" fill="none" stroke="#111" stroke-width="1.4"/>
<line x1="72.90" y1="442.70" x2="72.90" y2="534.30" stroke="#111" stroke-width="1.2" />
<line x1="72.30" y1="533.80" x2="199.80" y2="533.80" stroke="#111" stroke-width="1.2" />
<line x1="69.60" y1="533.80" x2="72.90" y2="533.80" stroke="#111" stroke-width="1.0" />
<text x="56.50" y="536.20" font-size="8.14" textLength="10.20" lengthAdjust="spacingAndGlyphs" fill="#1c1c1c" stroke="#1c1c1c" stroke-width="0.08">0.0</text>
<line x1="69.60" y1="511.70" x2="72.90" y2="511.70" stroke="#111" stroke-width="1.0" />
<text x="56.50" y="514.10" font-size="8.14" textLength="10.20" lengthAdjust="spacingAndGlyphs" fill="#1c1c1c" stroke="#1c1c1c" stroke-width="0.08">0.5</text>
<line x1="69.60" y1="489.60" x2="72.90" y2="489.60" stroke="#111" stroke-width="1.0" />
<text x="56.50" y="492.00" font-size="8.14" textLength="10.20" lengthAdjust="spacingAndGlyphs" fill="#1c1c1c" stroke="#1c1c1c" stroke-width="0.08">1.0</text>
<line x1="69.60" y1="467.50" x2="72.90" y2="467.50" stroke="#111" stroke-width="1.0" />
<text x="56.50" y="469.90" font-size="8.14" textLength="10.20" lengthAdjust="spacingAndGlyphs" fill="#1c1c1c" stroke="#1c1c1c" stroke-width="0.08">1.5</text>
<line x1="69.60" y1="445.40" x2="72.90" y2="445.40" stroke="#111" stroke-width="1.0" />
<text x="56.50" y="447.80" font-size="8.14" textLength="10.20" lengthAdjust="spacingAndGlyphs" fill="#1c1c1c" stroke="#1c1c1c" stroke-width="0.08">2.0</text>
<rect x="86.30" y="489.60" width="26.60" height="44.20" fill="#a30028" />
<line x1="99.60" y1="533.80" x2="99.60" y2="537.30" stroke="#111" stroke-width="1.0" />
<rect x="126.50" y="455.12" width="26.40" height="78.68" fill="#2d4a7a" />
<line x1="139.70" y1="450.26" x2="139.70" y2="455.12" stroke="#222" stroke-width="1.1" />
<line x1="133.10" y1="450.26" x2="146.30" y2="450.26" stroke="#222" stroke-width="1.1" />
<line x1="139.70" y1="533.80" x2="139.70" y2="537.30" stroke="#111" stroke-width="1.0" />
<rect x="166.30" y="482.09" width="27.00" height="51.71" fill="#6aa544" />
<line x1="179.80" y1="473.25" x2="179.80" y2="482.09" stroke="#222" stroke-width="1.1" />
<line x1="173.20" y1="473.25" x2="186.40" y2="473.25" stroke="#222" stroke-width="1.1" />
<line x1="179.80" y1="533.80" x2="179.80" y2="537.30" stroke="#111" stroke-width="1.0" />
<path d="M99.4,478.5 V439.6 H139.0 V446.5" stroke="#333" stroke-width="1.1" fill="none" />
<path d="M137.5,425.4 V418.7 H178.5 V455.2" stroke="#333" stroke-width="1.1" fill="none" />
<text x="108.00" y="436.50" font-size="8.36" textLength="21.80" lengthAdjust="spacingAndGlyphs" fill="#1c1c1c" stroke="#1c1c1c" stroke-width="0.04">p&lt;0.01</text>
<text x="145.20" y="415.40" font-size="8.36" textLength="26.00" lengthAdjust="spacingAndGlyphs" fill="#1c1c1c" stroke="#1c1c1c" stroke-width="0.04">p=0.023</text>
<text x="0" y="0" transform="translate(49.40,555.80) rotate(-90)" font-size="9.79" textLength="133.70" lengthAdjust="spacingAndGlyphs" fill="#1c1c1c" stroke="#1c1c1c" stroke-width="0.08">Cleaved caspase 3:Pro-caspase 3</text>
<text x="58.70" y="547.30" font-size="8.14" textLength="14.30" lengthAdjust="spacingAndGlyphs" fill="#1c1c1c" stroke="#1c1c1c" stroke-width="0.08">PBS:</text>
<line x1="97.20" y1="545.60" x2="101.80" y2="545.60" stroke="#333" stroke-width="0.85" />
<line x1="99.50" y1="543.30" x2="99.50" y2="547.90" stroke="#333" stroke-width="0.85" />
<line x1="138.40" y1="545.60" x2="140.60" y2="545.60" stroke="#444" stroke-width="0.9" />
<line x1="178.40" y1="545.60" x2="180.60" y2="545.60" stroke="#444" stroke-width="0.9" />
<text x="13.50" y="557.30" font-size="8.14" textLength="59.50" lengthAdjust="spacingAndGlyphs" fill="#1c1c1c" stroke="#1c1c1c" stroke-width="0.08">50 &#181;g/mL OxLDL:</text>
<line x1="98.40" y1="555.60" x2="100.60" y2="555.60" stroke="#444" stroke-width="0.9" />
<line x1="137.20" y1="555.60" x2="141.80" y2="555.60" stroke="#333" stroke-width="0.85" />
<line x1="139.50" y1="553.30" x2="139.50" y2="557.90" stroke="#333" stroke-width="0.85" />
<line x1="177.20" y1="555.60" x2="181.80" y2="555.60" stroke="#333" stroke-width="0.85" />
<line x1="179.50" y1="553.30" x2="179.50" y2="557.90" stroke="#333" stroke-width="0.85" />
<text x="28.80" y="567.50" font-size="8.14" textLength="44.20" lengthAdjust="spacingAndGlyphs" fill="#1c1c1c" stroke="#1c1c1c" stroke-width="0.08">1 &#181;g/mL IgG:</text>
<line x1="97.20" y1="565.80" x2="101.80" y2="565.80" stroke="#333" stroke-width="0.85" />
<line x1="99.50" y1="563.50" x2="99.50" y2="568.10" stroke="#333" stroke-width="0.85" />
<line x1="137.20" y1="565.80" x2="141.80" y2="565.80" stroke="#333" stroke-width="0.85" />
<line x1="139.50" y1="563.50" x2="139.50" y2="568.10" stroke="#333" stroke-width="0.85" />
<line x1="178.40" y1="565.80" x2="180.60" y2="565.80" stroke="#444" stroke-width="0.9" />
<text x="11.90" y="577.70" font-size="8.14" textLength="61.10" lengthAdjust="spacingAndGlyphs" fill="#1c1c1c" stroke="#1c1c1c" stroke-width="0.08">1 &#181;g/mL FA6-152:</text>
<line x1="98.40" y1="576.00" x2="100.60" y2="576.00" stroke="#444" stroke-width="0.9" />
<line x1="138.40" y1="576.00" x2="140.60" y2="576.00" stroke="#444" stroke-width="0.9" />
<line x1="177.20" y1="576.00" x2="181.80" y2="576.00" stroke="#333" stroke-width="0.85" />
<line x1="179.50" y1="573.70" x2="179.50" y2="578.30" stroke="#333" stroke-width="0.85" />
<text x="280.20" y="288.30" font-size="13.20" textLength="7.70" lengthAdjust="spacingAndGlyphs" fill="#1c1c1c" stroke="#1c1c1c" stroke-width="0.08">D</text>
<text x="371.90" y="295.60" font-size="7.70" textLength="20.20" lengthAdjust="spacingAndGlyphs" fill="#1c1c1c" stroke="#1c1c1c" stroke-width="0.08">DMSO</text>
<text x="415.00" y="295.60" font-size="7.70" textLength="30.20" lengthAdjust="spacingAndGlyphs" fill="#1c1c1c" stroke="#1c1c1c" stroke-width="0.08">BIX02188</text>
<line x1="353.10" y1="300.90" x2="410.80" y2="300.90" stroke="#444" stroke-width="1.4" />
<line x1="415.60" y1="300.90" x2="444.20" y2="300.90" stroke="#444" stroke-width="1.4" />
<text x="358.10" y="311.20" font-size="8.14" textLength="12.50" lengthAdjust="spacingAndGlyphs" fill="#1c1c1c" stroke="#1c1c1c" stroke-width="0.08">PBS</text>
<text x="386.30" y="311.20" font-size="8.14" textLength="22.20" lengthAdjust="spacingAndGlyphs" fill="#1c1c1c" stroke="#1c1c1c" stroke-width="0.08">OxLDL</text>
<text x="418.70" y="311.20" font-size="8.14" textLength="21.90" lengthAdjust="spacingAndGlyphs" fill="#1c1c1c" stroke="#1c1c1c" stroke-width="0.08">OxLDL</text>
<text x="321.20" y="342.70" font-size="8.25" textLength="21.90" lengthAdjust="spacingAndGlyphs" fill="#1c1c1c" stroke="#1c1c1c" stroke-width="0.08">35kDa</text>
<text x="321.20" y="368.10" font-size="8.25" textLength="21.90" lengthAdjust="spacingAndGlyphs" fill="#1c1c1c" stroke="#1c1c1c" stroke-width="0.08">17kDa</text>
<text x="321.20" y="395.00" font-size="8.25" textLength="21.90" lengthAdjust="spacingAndGlyphs" fill="#1c1c1c" stroke="#1c1c1c" stroke-width="0.08">42kDa</text>
<line x1="346.20" y1="340.20" x2="353.50" y2="340.20" stroke="#111" stroke-width="1.0" />
<line x1="346.20" y1="365.20" x2="353.50" y2="365.20" stroke="#111" stroke-width="1.0" />
<line x1="346.20" y1="392.00" x2="353.50" y2="392.00" stroke="#111" stroke-width="1.0" />
<text x="448.50" y="335.50" font-size="9.13" textLength="44.60" lengthAdjust="spacingAndGlyphs" fill="#1c1c1c" stroke="#1c1c1c" stroke-width="0.08">Procaspase 3</text>
<text x="448.50" y="362.30" font-size="9.13" textLength="27.60" lengthAdjust="spacingAndGlyphs" fill="#1c1c1c" stroke="#1c1c1c" stroke-width="0.08">Cleaved</text>
<text x="448.50" y="372.40" font-size="9.13" textLength="35.20" lengthAdjust="spacingAndGlyphs" fill="#1c1c1c" stroke="#1c1c1c" stroke-width="0.08">Caspase-3</text>
<text x="448.50" y="396.00" font-size="9.13" textLength="24.20" lengthAdjust="spacingAndGlyphs" fill="#1c1c1c" stroke="#1c1c1c" stroke-width="0.08">&#946; Actin</text>
<g clip-path="url(#c19)">
<rect x="353.00" y="316.30" width="92.50" height="32.40" fill="url(#gD1)"/>
<rect x="355.60" y="325.10" width="29.70" height="10.20" rx="4.60" fill="#000" opacity="0.500" filter="url(#b3)"/>
<rect x="356.60" y="326.60" width="27.70" height="7.20" rx="3.60" fill="#000" opacity="1" filter="url(#b1)"/>
<rect x="355.60" y="333.50" width="29.70" height="9.00" rx="4.00" fill="#000" opacity="0.425" filter="url(#b3)"/>
<rect x="356.60" y="335.00" width="27.70" height="6.00" rx="3.00" fill="#000" opacity="0.85" filter="url(#b1)"/>
<rect x="385.30" y="325.40" width="28.20" height="9.30" rx="4.15" fill="#000" opacity="0.500" filter="url(#b3)"/>
<rect x="386.30" y="326.90" width="26.20" height="6.30" rx="3.15" fill="#000" opacity="1" filter="url(#b1)"/>
<rect x="385.30" y="334.00" width="28.20" height="8.00" rx="3.50" fill="#000" opacity="0.300" filter="url(#b3)"/>
<rect x="386.30" y="335.50" width="26.20" height="5.00" rx="2.50" fill="#000" opacity="0.6" filter="url(#b1)"/>
<rect x="414.20" y="325.10" width="29.30" height="10.20" rx="4.60" fill="#000" opacity="0.500" filter="url(#b3)"/>
<rect x="415.20" y="326.60" width="27.30" height="7.20" rx="3.60" fill="#000" opacity="1" filter="url(#b1)"/>
<rect x="414.20" y="333.50" width="29.30" height="9.00" rx="4.00" fill="#000" opacity="0.425" filter="url(#b3)"/>
<rect x="415.20" y="335.00" width="27.30" height="6.00" rx="3.00" fill="#000" opacity="0.85" filter="url(#b1)"/>
</g>
<rect x="353.70" y="317.00" width="91.10" height="31.00" fill="none" stroke="#111" stroke-width="1.4"/>
<g clip-path="url(#c20)">
<rect x="353.00" y="351.90" width="92.50" height="25.40" fill="url(#gD2)"/>
<rect x="383.80" y="351.00" width="3.00" height="27.00" fill="#fff" opacity="0.4" filter="url(#b2)"/>
<rect x="412.30" y="351.00" width="3.00" height="27.00" fill="#fff" opacity="0.4" filter="url(#b2)"/>
<rect x="355.60" y="360.50" width="29.70" height="9.00" rx="4.00" fill="#000" opacity="0.180" filter="url(#b3)"/>
<rect x="356.60" y="362.00" width="27.70" height="6.00" rx="3.00" fill="#000" opacity="0.3" filter="url(#b2)"/>
<rect x="386.00" y="358.90" width="26.00" height="9.20" rx="4.10" fill="#000" opacity="0.552" filter="url(#b3)"/>
<rect x="387.00" y="360.40" width="24.00" height="6.20" rx="3.10" fill="#000" opacity="0.92" filter="url(#b15)"/>
<rect x="414.20" y="360.50" width="29.30" height="9.00" rx="4.00" fill="#000" opacity="0.210" filter="url(#b3)"/>
<rect x="415.20" y="362.00" width="27.30" height="6.00" rx="3.00" fill="#000" opacity="0.35" filter="url(#b2)"/>
</g>
<rect x="353.70" y="352.60" width="91.10" height="24.00" fill="none" stroke="#111" stroke-width="1.4"/>
<g clip-path="url(#c21)">
<rect x="353.00" y="380.20" width="92.50" height="25.00" fill="url(#gD3)"/>
<rect x="355.00" y="385.50" width="32.40" height="11.90" rx="4.60" fill="#000" opacity="0.350" filter="url(#b3)"/>
<rect x="356.00" y="387.00" width="30.40" height="8.90" rx="3.60" fill="#000" opacity="1.0" filter="url(#b1)"/>
<rect x="383.80" y="385.50" width="32.40" height="11.90" rx="4.60" fill="#000" opacity="0.350" filter="url(#b3)"/>
<rect x="384.80" y="387.00" width="30.40" height="8.90" rx="3.60" fill="#000" opacity="1.0" filter="url(#b1)"/>
<rect x="412.80" y="385.50" width="32.20" height="11.90" rx="4.60" fill="#000" opacity="0.350" filter="url(#b3)"/>
<rect x="413.80" y="387.00" width="30.20" height="8.90" rx="3.60" fill="#000" opacity="1.0" filter="url(#b1)"/>
</g>
<rect x="353.70" y="380.90" width="91.10" height="23.60" fill="none" stroke="#111" stroke-width="1.4"/>
<line x1="342.70" y1="439.40" x2="342.70" y2="534.70" stroke="#111" stroke-width="1.2" />
<line x1="342.10" y1="534.20" x2="474.20" y2="534.20" stroke="#111" stroke-width="1.2" />
<line x1="339.50" y1="534.20" x2="342.70" y2="534.20" stroke="#111" stroke-width="1.0" />
<text x="326.90" y="536.60" font-size="8.14" textLength="9.60" lengthAdjust="spacingAndGlyphs" fill="#1c1c1c" stroke="#1c1c1c" stroke-width="0.08">0.0</text>
<line x1="339.50" y1="515.60" x2="342.70" y2="515.60" stroke="#111" stroke-width="1.0" />
<text x="326.90" y="518.00" font-size="8.14" textLength="9.60" lengthAdjust="spacingAndGlyphs" fill="#1c1c1c" stroke="#1c1c1c" stroke-width="0.08">0.5</text>
<line x1="339.50" y1="497.00" x2="342.70" y2="497.00" stroke="#111" stroke-width="1.0" />
<text x="326.90" y="499.40" font-size="8.14" textLength="9.60" lengthAdjust="spacingAndGlyphs" fill="#1c1c1c" stroke="#1c1c1c" stroke-width="0.08">1.0</text>
<line x1="339.50" y1="478.40" x2="342.70" y2="478.40" stroke="#111" stroke-width="1.0" />
<text x="326.90" y="480.80" font-size="8.14" textLength="9.60" lengthAdjust="spacingAndGlyphs" fill="#1c1c1c" stroke="#1c1c1c" stroke-width="0.08">1.5</text>
<line x1="339.50" y1="459.80" x2="342.70" y2="459.80" stroke="#111" stroke-width="1.0" />
<text x="326.90" y="462.20" font-size="8.14" textLength="9.60" lengthAdjust="spacingAndGlyphs" fill="#1c1c1c" stroke="#1c1c1c" stroke-width="0.08">2.0</text>
<line x1="339.50" y1="441.20" x2="342.70" y2="441.20" stroke="#111" stroke-width="1.0" />
<text x="326.90" y="443.60" font-size="8.14" textLength="9.60" lengthAdjust="spacingAndGlyphs" fill="#1c1c1c" stroke="#1c1c1c" stroke-width="0.08">2.5</text>
<rect x="357.70" y="497.00" width="26.30" height="37.20" fill="#a30028" />
<line x1="370.85" y1="534.20" x2="370.85" y2="537.70" stroke="#111" stroke-width="1.0" />
<rect x="399.20" y="467.98" width="26.60" height="66.22" fill="#2d4a7a" />
<line x1="412.50" y1="459.06" x2="412.50" y2="467.98" stroke="#222" stroke-width="1.1" />
<line x1="405.90" y1="459.06" x2="419.10" y2="459.06" stroke="#222" stroke-width="1.1" />
<line x1="412.50" y1="534.20" x2="412.50" y2="537.70" stroke="#111" stroke-width="1.0" />
<rect x="441.20" y="488.44" width="26.30" height="45.76" fill="#6aa544" />
<line x1="454.35" y1="483.98" x2="454.35" y2="488.44" stroke="#222" stroke-width="1.1" />
<line x1="447.75" y1="483.98" x2="460.95" y2="483.98" stroke="#222" stroke-width="1.1" />
<line x1="454.35" y1="534.20" x2="454.35" y2="537.70" stroke="#111" stroke-width="1.0" />
<path d="M371.2,485.6 V445.2 H411.3 V452.9" stroke="#333" stroke-width="1.1" fill="none" />
<path d="M410.4,433.1 V423.7 H453.1 V461.9" stroke="#333" stroke-width="1.1" fill="none" />
<text x="380.00" y="442.30" font-size="8.36" textLength="22.70" lengthAdjust="spacingAndGlyphs" fill="#1c1c1c" stroke="#1c1c1c" stroke-width="0.04">p=0.02</text>
<text x="421.00" y="420.80" font-size="8.36" textLength="22.10" lengthAdjust="spacingAndGlyphs" fill="#1c1c1c" stroke="#1c1c1c" stroke-width="0.04">p=0.04</text>
<text x="0" y="0" transform="translate(319.70,553.40) rotate(-90)" font-size="9.79" textLength="133.20" lengthAdjust="spacingAndGlyphs" fill="#1c1c1c" stroke="#1c1c1c" stroke-width="0.08">Cleaved caspase 3:Pro-caspase 3</text>
<text x="328.10" y="547.60" font-size="8.14" textLength="14.50" lengthAdjust="spacingAndGlyphs" fill="#1c1c1c" stroke="#1c1c1c" stroke-width="0.08">PBS:</text>
<line x1="368.50" y1="545.90" x2="373.10" y2="545.90" stroke="#333" stroke-width="0.85" />
<line x1="370.80" y1="543.60" x2="370.80" y2="548.20" stroke="#333" stroke-width="0.85" />
<line x1="411.50" y1="545.90" x2="413.70" y2="545.90" stroke="#444" stroke-width="0.9" />
<line x1="453.10" y1="545.90" x2="455.30" y2="545.90" stroke="#444" stroke-width="0.9" />
<text x="283.80" y="557.90" font-size="8.14" textLength="58.80" lengthAdjust="spacingAndGlyphs" fill="#1c1c1c" stroke="#1c1c1c" stroke-width="0.08">50 &#181;g/mL OxLDL:</text>
<line x1="369.70" y1="556.20" x2="371.90" y2="556.20" stroke="#444" stroke-width="0.9" />
<line x1="410.30" y1="556.20" x2="414.90" y2="556.20" stroke="#333" stroke-width="0.85" />
<line x1="412.60" y1="553.90" x2="412.60" y2="558.50" stroke="#333" stroke-width="0.85" />
<line x1="451.90" y1="556.20" x2="456.50" y2="556.20" stroke="#333" stroke-width="0.85" />
<line x1="454.20" y1="553.90" x2="454.20" y2="558.50" stroke="#333" stroke-width="0.85" />
<text x="319.50" y="567.50" font-size="8.14" textLength="23.10" lengthAdjust="spacingAndGlyphs" fill="#1c1c1c" stroke="#1c1c1c" stroke-width="0.08">DMSO:</text>
<line x1="368.50" y1="565.80" x2="373.10" y2="565.80" stroke="#333" stroke-width="0.85" />
<line x1="370.80" y1="563.50" x2="370.80" y2="568.10" stroke="#333" stroke-width="0.85" />
<line x1="410.30" y1="565.80" x2="414.90" y2="565.80" stroke="#333" stroke-width="0.85" />
<line x1="412.60" y1="563.50" x2="412.60" y2="568.10" stroke="#333" stroke-width="0.85" />
<line x1="453.10" y1="565.80" x2="455.30" y2="565.80" stroke="#444" stroke-width="0.9" />
<text x="286.10" y="577.70" font-size="8.14" textLength="56.50" lengthAdjust="spacingAndGlyphs" fill="#1c1c1c" stroke="#1c1c1c" stroke-width="0.08">10 &#181;M BIX02188:</text>
<line x1="369.70" y1="576.00" x2="371.90" y2="576.00" stroke="#444" stroke-width="0.9" />
<line x1="411.50" y1="576.00" x2="413.70" y2="576.00" stroke="#444" stroke-width="0.9" />
<line x1="451.90" y1="576.00" x2="456.50" y2="576.00" stroke="#333" stroke-width="0.85" />
<line x1="454.20" y1="573.70" x2="454.20" y2="578.30" stroke="#333" stroke-width="0.85" />
</g>
<rect x="0.00" y="0.00" width="520.00" height="1.00" fill="#000" />
<rect x="0.00" y="0.00" width="1.00" height="587.00" fill="#000" />
<rect x="518.80" y="0.00" width="1.20" height="587.00" fill="#000" />
<rect x="0.00" y="585.50" width="520.00" height="1.50" fill="#000" />
</svg>
</body></html>
